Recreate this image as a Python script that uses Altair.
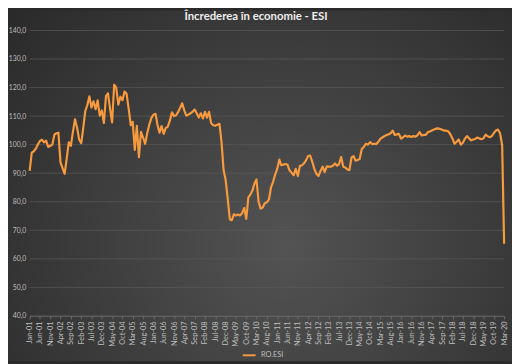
import altair as alt
import pandas as pd

title_text = "Încrederea în economie - ESI"
series_name = "RO.ESI"

esi = [
    90.8, 97.2, 97.6, 98.6, 100.0, 101.3, 101.7, 100.8, 101.4, 99.2, 99.6, 100.0,     # 2001
    103.5, 104.0, 104.2, 93.8, 91.8, 89.8, 95.0, 100.8, 99.6, 104.5, 108.9, 106.0,    # 2002
    101.8, 100.5, 105.5, 111.7, 113.8, 116.9, 113.0, 115.2, 112.4, 115.5, 110.2, 112.0,  # 2003
    107.6, 117.0, 118.0, 112.5, 107.8, 121.0, 120.0, 114.0, 116.8, 115.6, 118.6, 117.8,  # 2004
    112.5, 106.8, 108.0, 98.2, 106.6, 95.6, 104.5, 102.5, 100.3, 104.0, 107.0, 109.3,    # 2005
    110.5, 110.8, 107.0, 104.2, 106.5, 103.8, 105.8, 106.3, 108.5, 111.3, 110.0, 110.3,  # 2006
    111.5, 113.0, 114.5, 112.0, 110.2, 110.5, 111.0, 111.5, 112.3, 111.0, 109.5, 111.0,  # 2007
    109.2, 111.5, 109.5, 111.5, 107.5, 106.8, 106.6, 107.0, 107.3, 101.0, 91.0, 87.7,    # 2008
    81.0, 73.8, 73.5, 75.6, 75.2, 75.5, 75.2, 76.0, 77.8, 74.0, 81.5, 82.5,              # 2009
    84.0, 86.5, 87.8, 80.0, 77.6, 78.0, 79.5, 79.8, 80.8, 85.0, 87.0, 89.5,              # 2010
    91.5, 94.8, 92.8, 93.0, 93.2, 93.0, 91.0, 90.2, 89.3, 91.5, 89.0, 92.5,              # 2011
    92.8, 93.5, 94.5, 96.0, 96.2, 94.0, 91.5, 89.8, 89.0, 90.8, 92.3, 90.4,              # 2012
    92.4, 92.3, 92.3, 92.6, 93.4, 92.6, 93.2, 95.7, 92.3, 92.0, 91.3, 91.1,              # 2013
    95.5, 96.0, 94.4, 94.6, 95.0, 98.5, 99.2, 100.3, 100.0, 100.9, 100.2, 100.3,         # 2014
    100.2, 101.0, 102.0, 102.5, 103.0, 103.4, 103.6, 104.0, 104.9, 103.4, 103.6, 103.8,  # 2015
    102.1, 102.6, 103.2, 102.8, 103.0, 102.7, 103.0, 102.8, 103.3, 104.4, 103.2, 103.4,  # 2016
    103.4, 104.4, 104.6, 105.0, 105.3, 105.6, 105.7, 105.5, 105.2, 104.9, 104.9, 104.6,  # 2017
    103.5, 102.0, 100.3, 101.0, 101.8, 100.0, 100.7, 102.1, 103.0, 102.2, 101.5, 101.8,  # 2018
    102.0, 102.5, 102.2, 101.9, 102.2, 103.5, 103.0, 102.6, 103.0, 104.0, 105.0, 105.3,  # 2019
    104.0, 99.8, 65.3,                                                                   # 2020
]

dates = pd.date_range("2001-01-01", periods=len(esi), freq="MS")
tick_dates = [alt.DateTime(year=d.year, month=d.month, date=1) for d in dates[::5]]
y_ticks = list(range(40, 141, 10))

df = pd.DataFrame({"date": dates, "value": esi, "series": series_name})
grid_df = pd.DataFrame({"value": y_ticks})
title_df = pd.DataFrame({"t": [title_text]})

W, H = 482, 290
PAD = {"left": 22, "top": 20, "right": 8, "bottom": 46}

y_scale = alt.Scale(domain=[40, 140], nice=False, zero=False)
y_axis = alt.Axis(
    title=None, values=y_ticks,
    labelExpr="replace(format(datum.value, '.1f'), '.', ',')",
    labelFontSize=7, labelColor="#bdbdbd", labelFont="Lato",
    ticks=False, domain=False, labelPadding=4, grid=False,
    labelOverlap=False, labelFlush=False, zindex=1,
)

bg = alt.Chart(pd.DataFrame({"a": [0]})).mark_rect(
    fill={
        "gradient": "radial",
        "stops": [
            {"offset": 0, "color": "#535353"},
            {"offset": 1, "color": "#252525"},
        ],
        "x1": 0.55, "y1": 0.62, "r1": 0,
        "x2": 0.55, "y2": 0.62, "r2": 0.8,
    }
).encode(
    x=alt.value(-PAD["left"]), x2=alt.value(W + PAD["right"]),
    y=alt.value(-PAD["top"]), y2=alt.value(H + PAD["bottom"]),
)

grid = alt.Chart(grid_df).mark_rule(color="#5a5a5a", strokeWidth=0.7).encode(
    y=alt.Y("value:Q", scale=y_scale, axis=y_axis),
    x=alt.value(0), x2=alt.value(W),
)

title = alt.Chart(title_df).mark_text(
    font="Lato", fontSize=11.5, fontWeight="bold", color="#ececec",
    align="center", baseline="alphabetic",
).encode(text="t:N", x=alt.value(W / 2 - 11), y=alt.value(-11))

line = alt.Chart(df).mark_line(strokeWidth=2.2, strokeJoin="round").encode(
    x=alt.X(
        "date:T",
        scale=alt.Scale(
            domain=[tick_dates[0], alt.DateTime(year=2020, month=3, date=1)],
            nice=False,
        ),
        axis=alt.Axis(
            title=None, values=tick_dates, format="%b-%y", labelAngle=270,
            labelAlign="right", labelBaseline="middle", labelFontSize=7.5,
            labelColor="#bdbdbd", labelFont="Lato", grid=False,
            domainColor="#6a6a6a", domainWidth=0.8, tickColor="#6a6a6a",
            tickSize=3, labelPadding=2, labelOverlap=False, labelFlush=False,
            zindex=1,
        ),
    ),
    y=alt.Y("value:Q", scale=y_scale, axis=y_axis),
    color=alt.Color(
        "series:N",
        scale=alt.Scale(domain=[series_name], range=["#f79a3e"]),
        legend=alt.Legend(
            title=None, orient="none", legendX=215, legendY=322,
            symbolType="stroke", symbolSize=170, symbolStrokeWidth=2,
            labelFontSize=7.5, labelColor="#bdbdbd", labelFont="Lato",
            zindex=1,
        ),
    ),
)

chart = alt.layer(bg, grid, line, title).properties(
    width=W, height=H,
    padding=PAD,
    autosize=alt.AutoSizeParams(type="none"),
    background="#2a2a2a",
).configure_view(strokeWidth=0)

chart.save("out.html", embed_options={"renderer": "svg", "actions": False})
